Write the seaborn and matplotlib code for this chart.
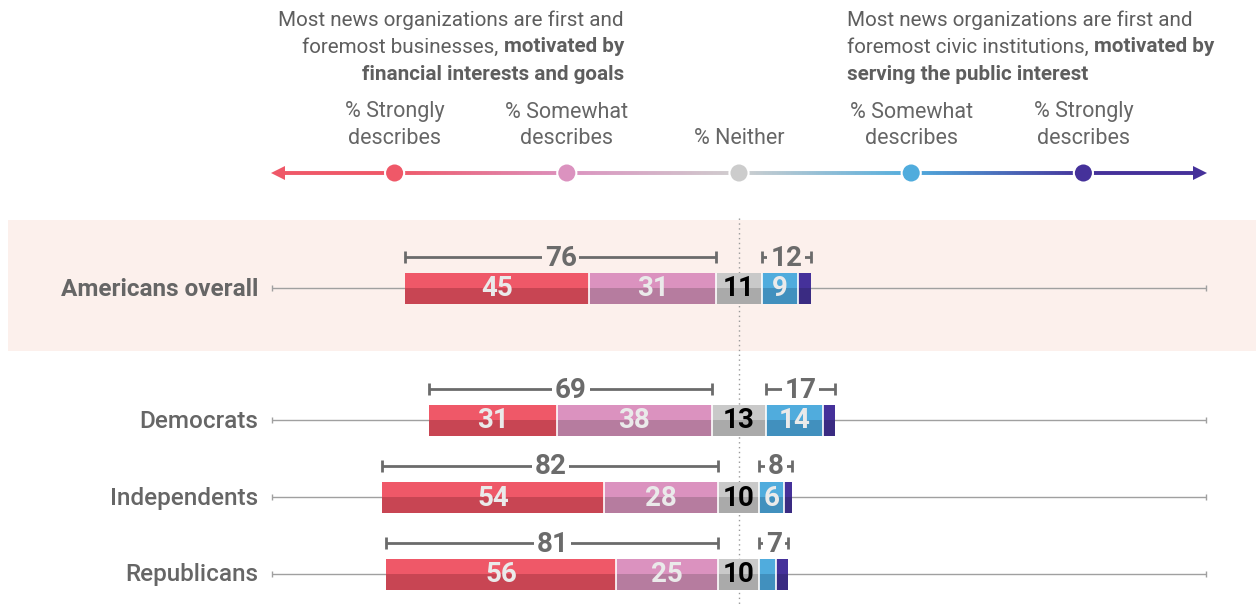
import numpy as np
import pandas as pd
import matplotlib
matplotlib.use('Agg')
import matplotlib.pyplot as plt
from matplotlib.collections import LineCollection
from matplotlib.colors import to_rgb
from matplotlib.patches import Rectangle
import seaborn as sns

# data
groups = ['Americans overall', 'Democrats', 'Independents', 'Republicans']
strongly_fin = [45, 31, 54, 56]
somewhat_fin = [31, 38, 28, 25]
neither = [11, 13, 10, 10]
somewhat_civic = [9, 14, 6, 4]
strongly_civic = [3, 3, 2, 3]
total_fin = [76, 69, 82, 81]
total_civic = [12, 17, 8, 7]
scale_labels = ['% Strongly\ndescribes', '% Somewhat\ndescribes', '% Neither',
                '% Somewhat\ndescribes', '% Strongly\ndescribes']

light = ['#EF5868', '#DB92BF', '#C9C9C9', '#50ACDD', '#45319A']
dark = ['#C84553', '#B67C9F', '#AAAAAA', '#4190BE', '#3A2B82']
label_col = ['#EAEAEA', '#EAEAEA', 'black', '#EAEAEA', '#EAEAEA']
grey = '#6b6b6b'

# layout (pixels)
W, H = 1256, 607
px = 4.1          # pixels per percentage point
x0 = 739          # pixel column of the zero line
row_y = np.array([288, 420, 497, 574])
bar_h = 31
scale_pos = [-84, -42, 0, 42, 84]
axis_end = 114

sns.set_style('white')
plt.rcParams['font.family'] = ['Roboto', 'DejaVu Sans']

fig = plt.figure(figsize=(W / 100, H / 100), dpi=100)
ax = fig.add_axes([0, 0, 1, 1])


def u(xpx):
    return (xpx - x0) / px


# highlight band for the total row
ax.add_patch(Rectangle((u(8), 220), u(W) - u(8), 131, color='#FCF0EC', zorder=0, lw=0))

# row guide lines + zero line
ax.hlines(row_y, -axis_end, axis_end, color='#a0a0a0', lw=1, zorder=1)
for end in (-axis_end, axis_end):
    ax.vlines(np.full(4, end), row_y - 3, row_y + 3, color='#a0a0a0', lw=1, zorder=1)
ax.vlines(0, 218, H, color='#9a9a9a', lw=1, linestyles=(0, (1, 2.5)), zorder=1)

# stacked diverging bars
segs = np.array([strongly_fin, somewhat_fin, neither, somewhat_civic, strongly_civic], dtype=float)
starts = -(segs[2] / 2 + segs[1] + segs[0]) + np.vstack([np.zeros(4), np.cumsum(segs, axis=0)[:-1]])
spacing = np.min(np.diff(row_y))
for i in range(5):
    df = pd.DataFrame({'v': segs[i], 'y': row_y})
    sns.barplot(data=df, x='v', y='y', orient='y', native_scale=True, width=bar_h / spacing,
                color=light[i], saturation=1, errorbar=None, linewidth=0, left=starts[i], ax=ax, zorder=2)
    df2 = pd.DataFrame({'v': segs[i], 'y': row_y + bar_h / 4})
    sns.barplot(data=df2, x='v', y='y', orient='y', native_scale=True, width=bar_h / 2 / spacing,
                color=dark[i], saturation=1, errorbar=None, linewidth=0, left=starts[i], ax=ax, zorder=2)
    if i > 0:
        ax.vlines(starts[i], row_y - bar_h / 2, row_y + bar_h / 2, color='white', lw=1.2, zorder=3)
    for j in range(4):
        if segs[i][j] >= 5:
            ax.text(starts[i][j] + segs[i][j] / 2, row_y[j] + 1, f'{int(segs[i][j])}', ha='center', va='center',
                    fontsize=20, fontweight='bold', color=label_col[i], zorder=4)

# brackets with net values
for j in range(4):
    bg = '#FCF0EC' if j == 0 else 'white'
    yb = row_y[j] - 31
    for a, b, val in [(starts[0][j], starts[2][j], total_fin[j]),
                      (starts[3][j], starts[4][j] + segs[4][j], total_civic[j])]:
        ax.hlines(yb, a, b, color=grey, lw=2, zorder=1.5)
        ax.vlines([a, b], yb - 6, yb + 6, color=grey, lw=2, zorder=1.5)
        ax.text((a + b) / 2, yb + 1, f'{val}', ha='center', va='center', fontsize=20, fontweight='bold',
                color=grey, zorder=1.8, bbox=dict(boxstyle='square,pad=0.1', fc=bg, ec='none'))

# group labels
for j, g in enumerate(groups):
    ax.text(u(258), row_y[j] + 1, g, ha='right', va='center', fontsize=17.5, color='#666666',
            fontweight='bold' if j == 0 else 'medium')

# gradient scale arrow
nodes_x = [-axis_end] + scale_pos + [axis_end]
nodes_c = [light[0]] + ['#EF5868', '#DB92BF', '#CFCFCF', '#50ACDD', '#45319A'] + ['#45319A']
xs = np.linspace(-axis_end + 2, axis_end - 2, 400)
rgb = np.array([to_rgb(c) for c in nodes_c])
cols = np.column_stack([np.interp(xs, nodes_x, rgb[:, k]) for k in range(3)])
pts = np.column_stack([xs, np.full_like(xs, 173)])
lc = LineCollection(np.stack([pts[:-1], pts[1:]], axis=1), colors=cols[:-1], linewidths=2.8, zorder=2)
ax.add_collection(lc)
ax.plot([-axis_end + 1.5], [173], marker='<', ms=10, color=light[0], mew=0, zorder=3)
ax.plot([axis_end - 1.5], [173], marker='>', ms=10, color=light[4], mew=0, zorder=3)
ax.scatter(scale_pos, [173] * 5, s=190, c=['#EF5868', '#DB92BF', '#CCCCCC', '#50ACDD', '#45319A'],
           edgecolors='white', linewidths=1.5, zorder=4)
for k, lab in enumerate(scale_labels):
    for n, line in enumerate(reversed(lab.split('\n'))):
        ax.text(scale_pos[k], 138 - 26 * n, line, ha='center', va='center', fontsize=15.5, color='#666666')

# header texts
hc = '#5e5e5e'
fs = 14.9
ax.text(u(624), 20, 'Most news organizations are first and', ha='right', va='center', fontsize=fs, color=hc)
t = ax.text(u(624), 47, 'motivated by', ha='right', va='center', fontsize=fs, color=hc, fontweight='bold')
ax.annotate('foremost businesses, ', xy=(0, 0.5), xycoords=t, ha='right', va='center', fontsize=fs, color=hc)
ax.text(u(624), 74, 'financial interests and goals', ha='right', va='center', fontsize=fs, color=hc,
        fontweight='bold')
ax.text(u(847), 20, 'Most news organizations are first and', ha='left', va='center', fontsize=fs, color=hc)
t2 = ax.text(u(847), 47, 'foremost civic institutions, ', ha='left', va='center', fontsize=fs, color=hc)
ax.annotate('motivated by', xy=(1, 0.5), xycoords=t2, ha='left', va='center', fontsize=fs, color=hc,
            fontweight='bold')
ax.text(u(847), 74, 'serving the public interest', ha='left', va='center', fontsize=fs, color=hc,
        fontweight='bold')

ax.set_xlim(u(0), u(W))
ax.set_ylim(H, 0)
ax.axis('off')
plt.savefig('out.png', dpi=100)
